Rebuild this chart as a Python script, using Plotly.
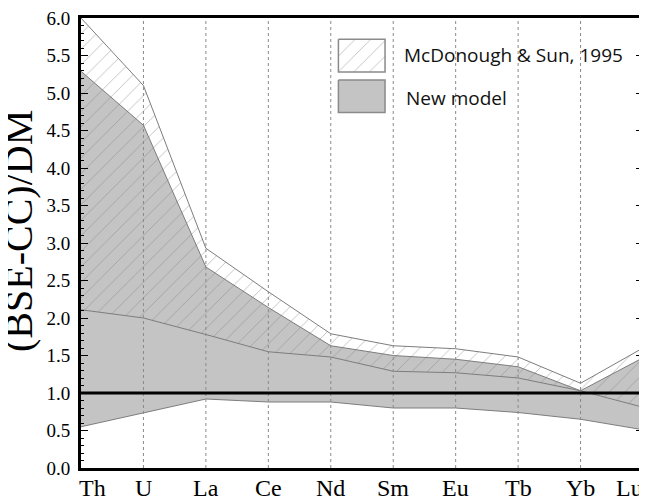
import plotly.graph_objects as go

# ---------------- data ----------------
categories = ["Th", "U", "La", "Ce", "Nd", "Sm", "Eu", "Tb", "Yb", "Lu"]
mcd_upper = [6.00, 5.10, 2.93, 2.35, 1.79, 1.63, 1.59, 1.48, 1.13, 1.60]
mcd_lower = [2.11, 2.00, 1.78, 1.55, 1.48, 1.29, 1.27, 1.20, 1.03, 0.81]
new_upper = [5.29, 4.57, 2.68, 2.14, 1.63, 1.50, 1.45, 1.35, 1.03, 1.47]
new_lower = [0.55, 0.73, 0.92, 0.88, 0.88, 0.80, 0.80, 0.74, 0.65, 0.51]
reference_level = 1.0
y_ticks = [0.0, 0.5, 1.0, 1.5, 2.0, 2.5, 3.0, 3.5, 4.0, 4.5, 5.0, 5.5, 6.0]
legend_labels = ["McDonough & Sun, 1995", "New model"]
y_title = "(BSE-CC)/DM"

# ---------------- style ----------------
GRAY_FILL = "#c4c4c4"
EDGE = "#7d7d7d"
HATCH = "#7d7d7d"
SERIF = "Liberation Serif, Times New Roman, serif"
SANS = "Open Sans, sans-serif"

# the page body adds an 8px offset; the figure size compensates for it
PAGE_OFFSET = 8
FIG_W, FIG_H = 647 - PAGE_OFFSET, 500 - PAGE_OFFSET

x = list(range(len(categories)))

fig = go.Figure()

# New model band (gray)
fig.add_trace(go.Scatter(x=x, y=new_lower, mode="lines",
                         line=dict(color=EDGE, width=1), showlegend=False,
                         hoverinfo="skip"))
fig.add_trace(go.Scatter(x=x, y=new_upper, mode="lines", fill="tonexty",
                         fillcolor=GRAY_FILL,
                         line=dict(color=EDGE, width=1), showlegend=False,
                         hoverinfo="skip"))
# McDonough & Sun band (hatched)
fig.add_trace(go.Scatter(x=x, y=mcd_lower, mode="lines",
                         line=dict(color=EDGE, width=1), showlegend=False,
                         hoverinfo="skip"))
fig.add_trace(go.Scatter(x=x, y=mcd_upper, mode="lines", fill="tonexty",
                         fillcolor="rgba(0,0,0,0)",
                         fillpattern=dict(shape="/", fgcolor=HATCH,
                                          bgcolor="rgba(0,0,0,0)",
                                          size=11, solidity=0.08),
                         line=dict(color=EDGE, width=1), showlegend=False,
                         hoverinfo="skip"))

# Legend boxes on an overlay [0,1] axis pair (decoration)
hx0, hx1 = 0.458, 0.541
fig.add_trace(go.Scatter(x=[hx0, hx1, hx1, hx0, hx0],
                         y=[0.953, 0.953, 0.880, 0.880, 0.953],
                         xaxis="x2", yaxis="y2", mode="lines", fill="toself",
                         fillcolor="rgba(255,255,255,1)",
                         fillpattern=dict(shape="/", fgcolor=HATCH,
                                          bgcolor="white", size=11,
                                          solidity=0.08),
                         line=dict(color="#8a8a8a", width=1.5),
                         showlegend=False, hoverinfo="skip"))
fig.add_trace(go.Scatter(x=[hx0, hx1, hx1, hx0, hx0],
                         y=[0.862, 0.862, 0.790, 0.790, 0.862],
                         xaxis="x2", yaxis="y2", mode="lines", fill="toself",
                         fillcolor=GRAY_FILL,
                         line=dict(color="#8a8a8a", width=1.5),
                         showlegend=False, hoverinfo="skip"))

shapes = []
# dotted vertical guides at interior categories
for i in x[1:-1]:
    shapes.append(dict(type="line", xref="x", yref="paper", x0=i, x1=i,
                       y0=0, y1=1, layer="above",
                       line=dict(color="#8a8a8a", width=1, dash="dot")))
# reference line at 1.0
shapes.append(dict(type="line", xref="paper", yref="y", x0=0, x1=1,
                   y0=reference_level, y1=reference_level, layer="above",
                   line=dict(color="black", width=3)))

annotations = []
# category labels
for i, c in enumerate(categories):
    if i == 0:
        xa, xs = "left", -4
    elif i == len(categories) - 1:
        xa, xs = "right", 2
    else:
        xa, xs = "center", 0
    annotations.append(dict(x=i, y=0, xref="x", yref="paper", text=c,
                            showarrow=False, xanchor=xa, yanchor="top",
                            xshift=xs, yshift=-5,
                            font=dict(family=SERIF, size=24, color="black")))
# legend labels
annotations.append(dict(x=0.571, y=0.917, xref="paper", yref="paper",
                        text=legend_labels[0], showarrow=False,
                        xanchor="left", yanchor="middle",
                        font=dict(family=SANS, size=19, color="#111")))
annotations.append(dict(x=0.575, y=0.823, xref="paper", yref="paper",
                        text=legend_labels[1], showarrow=False,
                        xanchor="left", yanchor="middle",
                        font=dict(family=SANS, size=19, color="#111")))
# y-axis title
annotations.append(dict(x=-0.110, y=0.527, xref="paper", yref="paper",
                        text=y_title, showarrow=False, textangle=-90,
                        xanchor="center", yanchor="middle",
                        font=dict(family=SERIF, size=40, color="black")))

fig.update_layout(
    width=FIG_W, height=FIG_H,
    margin=dict(l=81 - PAGE_OFFSET, r=4, t=18 - PAGE_OFFSET, b=32,
                autoexpand=False),
    paper_bgcolor="white", plot_bgcolor="white",
    showlegend=False,
    shapes=shapes, annotations=annotations,
    xaxis=dict(range=[0, len(categories) - 1], showgrid=False,
               zeroline=False, showticklabels=False, ticks="",
               showline=True, linecolor="black", linewidth=3, mirror=True,
               fixedrange=True),
    yaxis=dict(range=[0, 6], tickvals=y_ticks,
               ticktext=[f"{v:.1f}" for v in y_ticks],
               showgrid=False, zeroline=False,
               ticks="inside", ticklen=7, tickwidth=1, tickcolor="black",
               minor=dict(dtick=0.1, ticks="inside", ticklen=3,
                          tickcolor="black", showgrid=False),
               showline=True, linecolor="black", linewidth=3, mirror="ticks",
               ticklabelstandoff=4, ticklabeloverflow="allow",
               tickfont=dict(family=SERIF, size=19, color="black"),
               fixedrange=True),
    xaxis2=dict(range=[0, 1], overlaying="x", visible=False, fixedrange=True),
    yaxis2=dict(range=[0, 1], overlaying="y", visible=False, fixedrange=True),
)

fig.write_html("out.html")
